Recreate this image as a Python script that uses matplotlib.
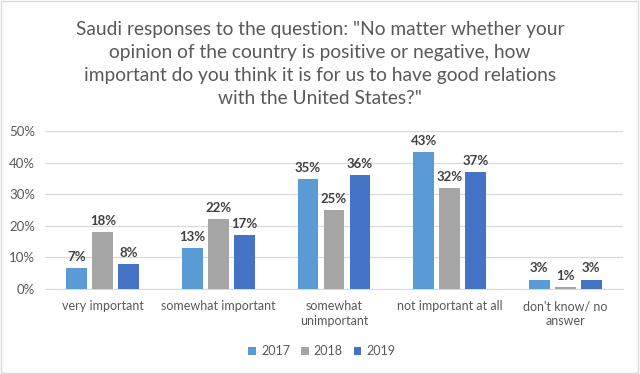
import numpy as np
import matplotlib.pyplot as plt
from matplotlib.patches import Rectangle

categories = ['very important', 'somewhat important', 'somewhat\nunimportant',
              'not important at all', "don't know/ no\nanswer"]
years = ['2017', '2018', '2019']
v2017 = [6.5, 13, 34.7, 43.2, 3]
v2018 = [18, 22, 25, 32, 0.7]
v2019 = [8, 17, 36, 37, 3]
labels2017 = ['7%', '13%', '35%', '43%', '3%']
labels2018 = ['18%', '22%', '25%', '32%', '1%']
labels2019 = ['8%', '17%', '36%', '37%', '3%']
colors = ['#5B9BD5', '#A5A5A5', '#4472C4']

plt.rcParams['font.family'] = ['Lato', 'DejaVu Sans']

fig = plt.figure(figsize=(6.4, 3.74), dpi=100)
ax = fig.add_axes([45/640, 1 - 289/374, 578/640, 158/374])

x = np.arange(len(categories))
w = 0.18
step = 0.225
series = [(v2017, labels2017), (v2018, labels2018), (v2019, labels2019)]
for i, (vals, labs) in enumerate(series):
    pos = x + (i - 1) * step
    bars = ax.bar(pos, vals, width=w, color=colors[i], label=years[i], zorder=3)
    for b, t in zip(bars, labs):
        ax.text(b.get_x() + b.get_width() / 2, b.get_height() + 1.6, t,
                ha='center', va='bottom', fontsize=9.5, fontweight='bold', color='#404040')

ax.set_xlim(-0.5, len(categories) - 0.5)
ax.set_ylim(0, 50)
ax.set_yticks(np.arange(0, 51, 10))
ax.set_yticklabels([f'{v}%' for v in range(0, 51, 10)])
ax.set_xticks(x)
ax.set_xticklabels(categories, linespacing=1.3)
ax.grid(axis='y', color='#D9D9D9', linewidth=0.9, zorder=0)
for s in ['top', 'right', 'left']:
    ax.spines[s].set_visible(False)
ax.spines['bottom'].set_color('#D9D9D9')
ax.tick_params(axis='both', length=0, colors='#595959', labelsize=9)
ax.tick_params(axis='y', labelsize=9.5)
ax.tick_params(axis='x', pad=8)
ax.tick_params(axis='y', pad=7)

fig.text(0.5, 1 - 64/374,
         'Saudi responses to the question: "No matter whether your\n'
         'opinion of the country is positive or negative, how\n'
         'important do you think it is for us to have good relations\n'
         'with the United States?"',
         ha='center', va='center', fontsize=13.8, color='#595959', linespacing=1.45)

ax.legend(loc='center', bbox_to_anchor=(0.503, 1 - 351/374), bbox_transform=fig.transFigure,
          ncol=3, frameon=False, fontsize=9, labelcolor='#595959',
          handlelength=0.6, handleheight=0.6, handletextpad=0.4, columnspacing=0.9)

fig.patches.append(Rectangle((0.002, 0.003), 0.995, 0.993, transform=fig.transFigure,
                             fill=False, edgecolor='#D9D9D9', linewidth=1))

fig.savefig('out.png', dpi=100, facecolor='white')
